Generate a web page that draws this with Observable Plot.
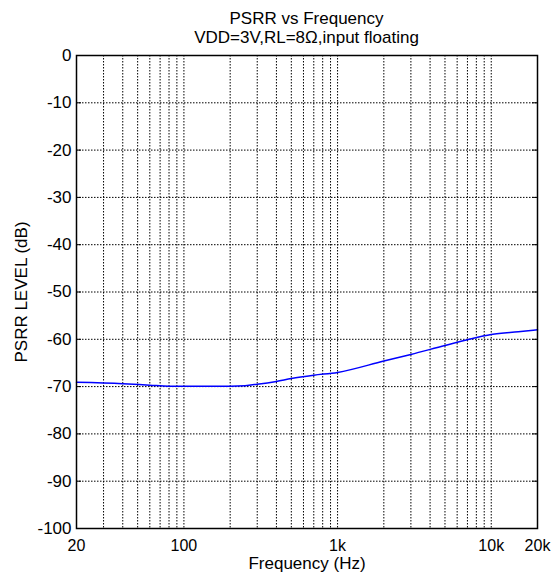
<!DOCTYPE html>
<html><head><meta charset="utf-8">
<script src="https://cdn.jsdelivr.net/npm/d3@7"></script>
<script src="https://cdn.jsdelivr.net/npm/@observablehq/plot@0.6"></script>
<style>
body{margin:0;background:#fff;font-family:"Liberation Sans",Arial,sans-serif;}
#title{box-sizing:border-box;width:558px;height:48px;padding:10px 21px 0 76px;text-align:center;font-size:17px;line-height:18.5px;color:#000;}
</style></head><body>
<div id="title"><div>PSRR vs Frequency</div><div>VDD=3V,RL=8Ω,input floating</div></div>
<div id="chart"></div>
<script>
const frequency = [20, 40, 60, 80, 100, 150, 200, 250, 300, 400, 500, 700, 1000, 2000, 3000, 5000, 7000, 10000, 15000, 20000];
const psrr = [-69.1, -69.4, -69.7, -69.9, -69.9, -69.9, -69.9, -69.8, -69.5, -68.9, -68.3, -67.6, -67.0, -64.6, -63.2, -61.3, -60.1, -59.0, -58.4, -58.0];
const xTicks = [20, 100, 1000, 10000, 20000];
const xTickLabels = ["20", "100", "1k", "10k", "20k"];
const xGrid = [30, 40, 50, 60, 70, 80, 90, 100, 200, 300, 400, 500, 600, 700, 800, 900, 1000, 2000, 3000, 4000, 5000, 6000, 7000, 8000, 9000, 10000];
const yTicks = [0, -10, -20, -30, -40, -50, -60, -70, -80, -90, -100];

const data = frequency.map((f, i) => ({f, db: psrr[i]}));
const gridStyle = {stroke: "#000", strokeOpacity: 1, strokeWidth: 1, strokeDasharray: "1.5,1.5"};
const innerTicks = yTicks.slice(1, -1);

const chart = Plot.plot({
  width: 558, height: 527,
  marginTop: 7, marginBottom: 47, marginLeft: 76, marginRight: 21,
  style: {fontFamily: "'Liberation Sans', Arial, sans-serif", fontSize: "17px", color: "#000", background: "#fff", overflow: "visible"},
  x: {type: "log", domain: [20, 20000]},
  y: {domain: [-100, 0]},
  marks: [
    Plot.gridX(xGrid, gridStyle),
    Plot.gridY(innerTicks, gridStyle),
    Plot.tickY(innerTicks, {y: d => d, stroke: "#000", strokeWidth: 1, insetRight: 456}),
    Plot.tickY(innerTicks, {y: d => d, stroke: "#000", strokeWidth: 1, insetLeft: 456}),
    Plot.axisX({ticks: xTicks, tickFormat: d => xTickLabels[xTicks.indexOf(d)], tickSize: 0, tickPadding: 11,
      fontSize: 16, label: null}),
    Plot.axisX({ticks: [], label: "Frequency (Hz)", labelAnchor: "center", labelArrow: "none", labelOffset: 40, tickSize: 0}),
    Plot.axisY({ticks: yTicks, tickFormat: d => String(d), tickSize: 0, tickPadding: 5,
      label: "PSRR LEVEL (dB)", labelAnchor: "center", labelArrow: "none", labelOffset: 62}),
    Plot.line(data, {x: "f", y: "db", stroke: "#0000ff", strokeWidth: 1.5, curve: "monotone-x"}),
    Plot.frame({stroke: "#000", strokeWidth: 1.5})
  ]
});
document.getElementById("chart").appendChild(chart);
</script>
</body></html>
